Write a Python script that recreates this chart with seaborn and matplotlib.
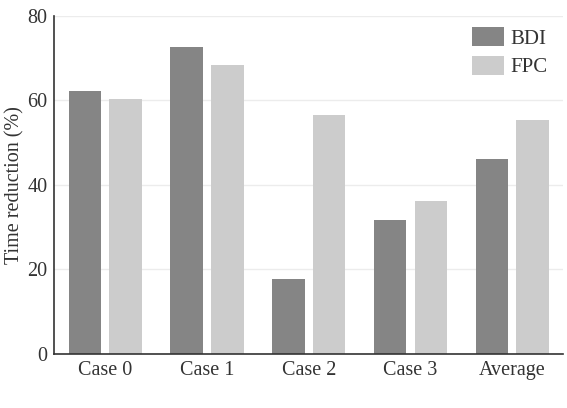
import pandas as pd
import matplotlib
matplotlib.use("Agg")
import matplotlib.pyplot as plt
import seaborn as sns

# values
cases = ["Case 0", "Case 1", "Case 2", "Case 3", "Average"]
bdi = [62.2, 72.6, 17.7, 31.7, 46.2]
fpc = [60.2, 68.2, 56.5, 36.1, 55.3]

df = pd.DataFrame({
    "case": cases * 2,
    "method": ["BDI"] * len(cases) + ["FPC"] * len(cases),
    "reduction": bdi + fpc,
})

sns.set_theme(style="white")
plt.rcParams["font.family"] = ["Liberation Serif", "DejaVu Serif"]

fig = plt.figure(figsize=(5.67, 4.08), dpi=100)
ax = fig.add_axes([0.096, 0.132, 0.897, 0.83])

sns.barplot(data=df, x="case", y="reduction", hue="method",
            palette=["#858585", "#cccccc"], width=0.8, gap=0.2,
            saturation=1, linewidth=0, ax=ax)

ax.set_ylim(0, 80)
ax.set_yticks([0, 20, 40, 60, 80])
ax.set_xlim(-0.5, 4.5)
ax.yaxis.grid(True, color="#ececec", linewidth=1)
ax.set_axisbelow(True)
ax.set_xlabel("")
ax.set_ylabel("Time reduction (%)", fontsize=14.5, color="#333333", labelpad=2)
ax.tick_params(axis="both", length=0, labelsize=14.5, colors="#333333", pad=5)
for s in ["top", "right"]:
    ax.spines[s].set_visible(False)
for s in ["left", "bottom"]:
    ax.spines[s].set_color("#333333")
    ax.spines[s].set_linewidth(1.2)

ax.legend(title=None, frameon=False, loc="upper right", fontsize=15,
          handlelength=1.5, handleheight=1.0, handletextpad=0.3,
          labelspacing=0.35, borderaxespad=0, bbox_to_anchor=(0.985, 0.99),
          labelcolor="#333333")

fig.savefig("out.png", dpi=100)
